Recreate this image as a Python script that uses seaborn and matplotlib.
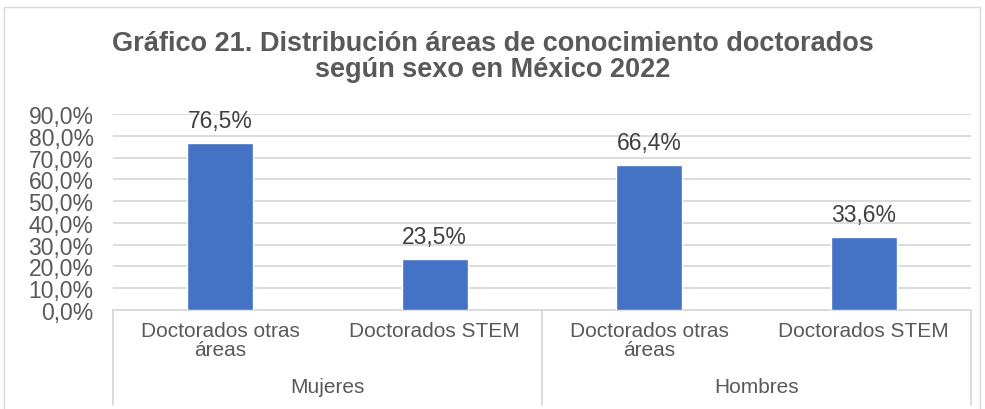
import matplotlib
matplotlib.use("Agg")
import matplotlib.pyplot as plt
import matplotlib.transforms as mtrans
from matplotlib.patches import Rectangle
import seaborn as sns
import pandas as pd

# ---- data ----
groups = ["Mujeres", "Mujeres", "Hombres", "Hombres"]
categories = ["Doctorados otras\náreas", "Doctorados STEM",
              "Doctorados otras\náreas", "Doctorados STEM"]
values = [76.5, 23.5, 66.4, 33.6]
value_labels = ["76,5%", "23,5%", "66,4%", "33,6%"]
group_names = ["Mujeres", "Hombres"]
ytick_values = [0, 10, 20, 30, 40, 50, 60, 70, 80, 90]
ytick_labels = ["0,0%", "10,0%", "20,0%", "30,0%", "40,0%",
                "50,0%", "60,0%", "70,0%", "80,0%", "90,0%"]
title = "Gráfico 21. Distribución áreas de conocimiento doctorados\nsegún sexo en México 2022"

sns.set_theme(style="white")
plt.rcParams['font.family'] = ['Liberation Sans', 'DejaVu Sans']

df = pd.DataFrame({"key": [f"{g}|{c}" for g, c in zip(groups, categories)],
                   "value": values})

W, H = 985, 410
fig = plt.figure(figsize=(W / 100, H / 100), dpi=100)
ax = fig.add_axes([113 / W, 99 / H, 858 / W, 196 / H])

sns.barplot(data=df, x="key", y="value", color="#4472C4", saturation=1,
            width=0.31, ax=ax, zorder=3)

ax.set_xlim(-0.5, 3.5)
ax.set_ylim(0, 90)
ax.set_yticks(ytick_values)
ax.set_yticklabels(ytick_labels, fontsize=16.5, color="#595959")
ax.yaxis.grid(True, color="#d9d9d9", lw=1.3)
ax.set_axisbelow(True)
for s in ["left", "top", "right"]:
    ax.spines[s].set_visible(False)
ax.spines["bottom"].set_color("#d9d9d9")
ax.spines["bottom"].set_linewidth(1.3)

ax.set_xticks(range(len(categories)))
ax.set_xticklabels(categories, fontsize=15, color="#595959", linespacing=1.0)
ax.tick_params(axis="x", length=0, pad=8)
ax.tick_params(axis="y", length=0, pad=14)
ax.set_xlabel("")
ax.set_ylabel("")

ax.bar_label(ax.containers[0], labels=value_labels, padding=8,
             fontsize=16.5, color="#404040")

trans = mtrans.blended_transform_factory(ax.transData, fig.transFigure)
for i, g in enumerate(group_names):
    ax.text(2 * i + 0.5, 1 - 388 / H, g, transform=trans, ha="center",
            va="center", fontsize=15, color="#595959")
for xpos in [-0.5, 1.5, 3.5]:
    ax.plot([xpos, xpos], [99 / H, 4 / H], transform=trans, color="#d9d9d9",
            lw=1.3, clip_on=False)

fig.text(0.5, 1 - 57 / H, title, ha="center", va="center", fontsize=19.5,
         fontweight="bold", color="#595959", linespacing=1.0)

fig.patches.append(Rectangle((4 / W, -0.05), 976 / W, 1 - 8 / H + 0.05,
                             transform=fig.transFigure, fill=False,
                             ec="#d9d9d9", lw=1))

fig.savefig("out.png", dpi=100)
